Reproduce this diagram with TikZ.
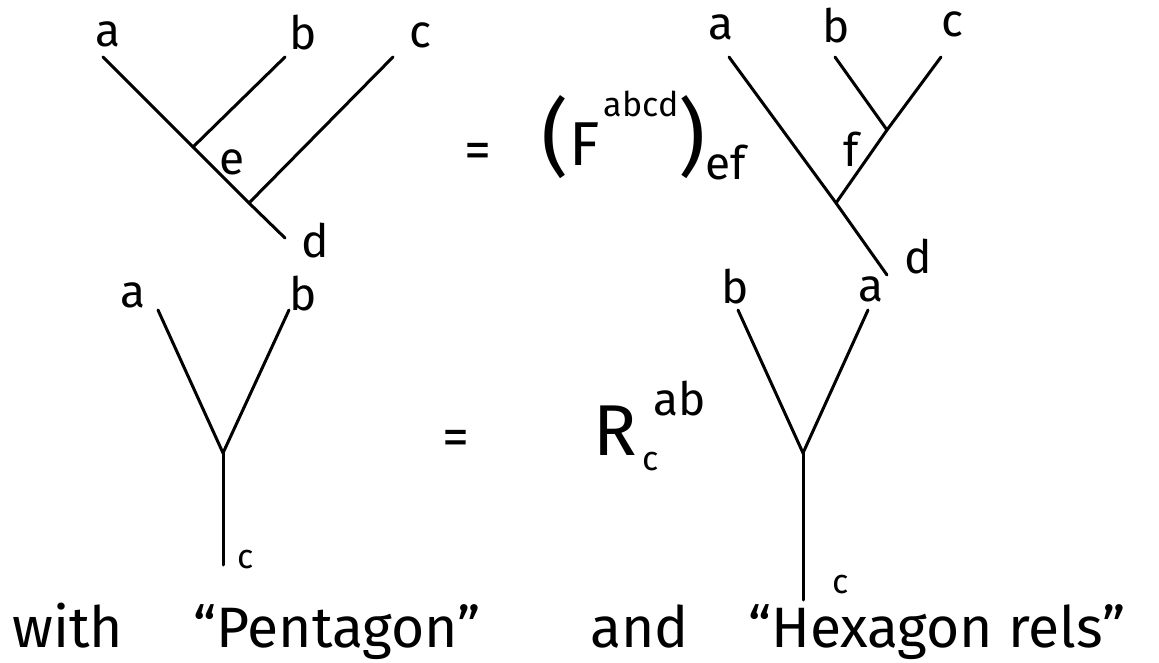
\documentclass[tikz,border=0pt]{standalone}
\usepackage{fontspec}
\setmainfont{Fira Sans}
\begin{document}
\begin{tikzpicture}[x=1pt,y=-1pt,
  edge/.style={line width=3pt,line cap=round},
  lbl/.style={inner sep=0pt,anchor=base,font=\fontsize{46}{46}\selectfont},
  small/.style={inner sep=0pt,anchor=base,font=\fontsize{34}{34}\selectfont},
  eqs/.style={inner sep=0pt,font=\fontsize{54}{54}\selectfont},
  paren/.style={inner sep=0pt,font=\fontsize{84}{84}\selectfont},
  big/.style={inner sep=0pt,anchor=base,font=\fontsize{72}{72}\selectfont},
  txt/.style={inner sep=0pt,anchor=base west,font=\fontsize{57}{57}\selectfont}]
\useasboundingbox (0,0) rectangle (1159,663);
% ---- top-left tree
\coordinate (tla) at (103,57);
\coordinate (tlb) at (285,57);
\coordinate (tlc) at (393,57);
\coordinate (tle) at (193,147);
\coordinate (tlv) at (249,203);
\coordinate (tld) at (285,238);
\draw[edge] (tla) -- (tle) -- (tlv) -- (tld);
\draw[edge] (tlb) -- (tle);
\draw[edge] (tlc) -- (tlv);
\node[lbl] (la1) at (108,47) {a};
\node[lbl] (lb1) at (303,50) {b};
\node[lbl] (lc1) at (420,48) {c};
\node[lbl] (le1) at (232,175) {e};
\node[lbl] (ld1) at (315,257) {d};
% ---- top equals and F symbol
\node[eqs] (eq1) at (478,156) {=};
\node[paren] (lp) at (555,137) {(};
\node[big,font=\fontsize{62}{62}\selectfont] (F) at (585,166) {F};
\node[small] (sup) at (641,117) {abcd};
\node[paren] (rp) at (692,137) {)};
\node[lbl] (sub) at (726,180) {ef};
% ---- top-right tree
\coordinate (tra) at (729,57);
\coordinate (trb) at (835,57);
\coordinate (trc) at (941,57);
\coordinate (trf) at (887,130);
\coordinate (trv) at (836,203);
\coordinate (trd) at (887,275);
\draw[edge] (tra) -- (trv) -- (trd);
\draw[edge] (trc) -- (trf) -- (trv);
\draw[edge] (trb) -- (trf);
\node[lbl] (la2) at (721,40) {a};
\node[lbl] (lb2) at (836,43) {b};
\node[lbl] (lc2) at (952,37) {c};
\node[lbl] (lf2) at (851,167) {f};
\node[lbl] (ld2) at (918,273) {d};
% ---- bottom-left Y
\coordinate (bla) at (158,310);
\coordinate (blb) at (289,310);
\coordinate (blv) at (223,453);
\coordinate (blc) at (223,565);
\draw[edge] (bla) -- (blv) -- (blb);
\draw[edge] (blv) -- (blc);
\node[lbl] (la3) at (133,307) {a};
\node[lbl] (lb3) at (303,310) {b};
\node[small] (lc3) at (246,568) {c};
\node[eqs] (eq2) at (456,443) {=};
% ---- R symbol
\node[big] (R) at (615,455) {R};
\node[lbl] (Rsup) at (680,415) {ab};
\node[small] (Rsub) at (651,470) {c};
% ---- bottom-right Y
\coordinate (brb) at (738,310);
\coordinate (bra) at (868,310);
\coordinate (brv) at (803,453);
\coordinate (brc) at (803,600);
\draw[edge] (brb) -- (brv) -- (bra);
\draw[edge] (brv) -- (brc);
\node[lbl] (lb4) at (735,303) {b};
\node[lbl] (la4) at (871,301) {a};
\node[small] (lc4) at (841,593) {c};
% ---- bottom text
\node[txt] (t1) at (12,647) {with};
\node[txt] (t2) at (193,647) {“Pentagon”};
\node[txt] (t3) at (590,647) {and};
\node[txt] (t4) at (748,647) {“Hexagon rels”};
\end{tikzpicture}
\end{document}
